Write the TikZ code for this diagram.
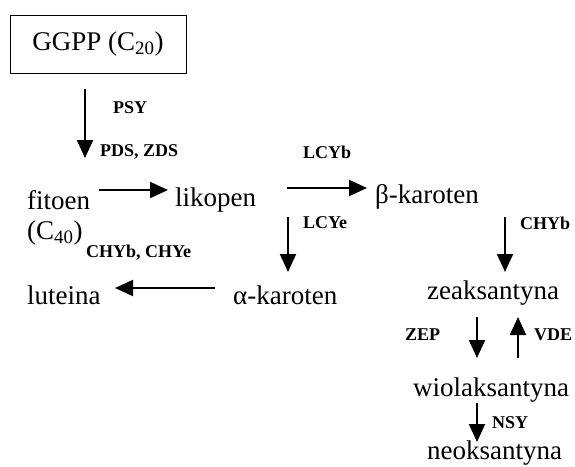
\documentclass[tikz,border=0pt]{standalone}
\usepackage{fontspec}
\setmainfont{Liberation Serif}
\usetikzlibrary{arrows.meta}

\begin{document}
\begin{tikzpicture}[x=1pt,y=-1pt,
		chat/.style={font=\fontsize{27}{30}\selectfont, inner sep=0pt, anchor=west},
		enzym/.style={font=\bfseries\fontsize{18}{20}\selectfont, inner sep=0pt, anchor=west},
		muiten/.style={line width=2pt, -{Triangle[length=18pt,width=16pt]}}]
		\useasboundingbox (0,0) rectangle (575,466);
		
		\node[draw, line width=1pt, minimum width=176pt, minimum height=58pt, font=\fontsize{27}{30}\selectfont] (ggpp) at (98,44) {GGPP (C\textsubscript{20})};
		\node[chat] (fitoen) at (27,200) {fitoen};
		\node[chat] (c40) at (27,233) {(C\textsubscript{40})};
		\node[chat] (likopen) at (175,200) {likopen};
		\node[chat] (bkaroten) at (375,197) {β-karoten};
		\node[chat] (akaroten) at (233,295) {α-karoten};
		\node[chat] (luteina) at (27,295) {luteina};
		\node[chat] (zeaksantyna) at (427,293) {zeaksantyna};
		\node[chat] (wiolaksantyna) at (413,390) {wiolaksantyna};
		\node[chat] (neoksantyna) at (427,453) {neoksantyna};
		
		\node[enzym] (psy) at (113,108) {PSY};
		\node[enzym] (pds) at (100,152) {PDS, ZDS};
		\node[enzym] (lcyb) at (303,152) {LCYb};
		\node[enzym] (lcye) at (303,223) {LCYe};
		\node[enzym] (chyb) at (520,223) {CHYb};
		\node[enzym] (chybe) at (86,253) {CHYb, CHYe};
		\node[enzym] (zep) at (405,335) {ZEP};
		\node[enzym] (vde) at (534,335) {VDE};
		\node[enzym] (nsy) at (492,423) {NSY};
		
		\draw[muiten] ([xshift=-13pt,yshift=-15pt]ggpp.south) -- ([xshift=58pt,yshift=42pt]fitoen.west);
		\draw[muiten] ([xshift=72pt,yshift=10pt]fitoen.west) -- ([xshift=-7pt,yshift=10pt]likopen.west);
		\draw[muiten] ([xshift=112pt,yshift=12pt]likopen.west) -- ([xshift=-8pt,yshift=9pt]bkaroten.west);
		\draw[muiten] ([xshift=113pt,yshift=-17pt]likopen.west) -- ([xshift=55pt,yshift=23pt]akaroten.west);
		\draw[muiten] ([xshift=130pt,yshift=-20pt]bkaroten.west) -- ([xshift=78pt,yshift=21pt]zeaksantyna.west);
		\draw[muiten] ([xshift=-18pt,yshift=7pt]akaroten.west) -- ([xshift=88pt,yshift=7pt]luteina.west);
		\draw[muiten] ([xshift=50pt,yshift=-24pt]zeaksantyna.west) -- ([xshift=64pt,yshift=32pt]wiolaksantyna.west);
		\draw[muiten] ([xshift=105pt,yshift=32pt]wiolaksantyna.west) -- ([xshift=91pt,yshift=-24pt]zeaksantyna.west);
		\draw[muiten] ([xshift=64pt,yshift=-13pt]wiolaksantyna.west) -- ([xshift=50pt,yshift=11pt]neoksantyna.west);
	\end{tikzpicture}
\end{document}
